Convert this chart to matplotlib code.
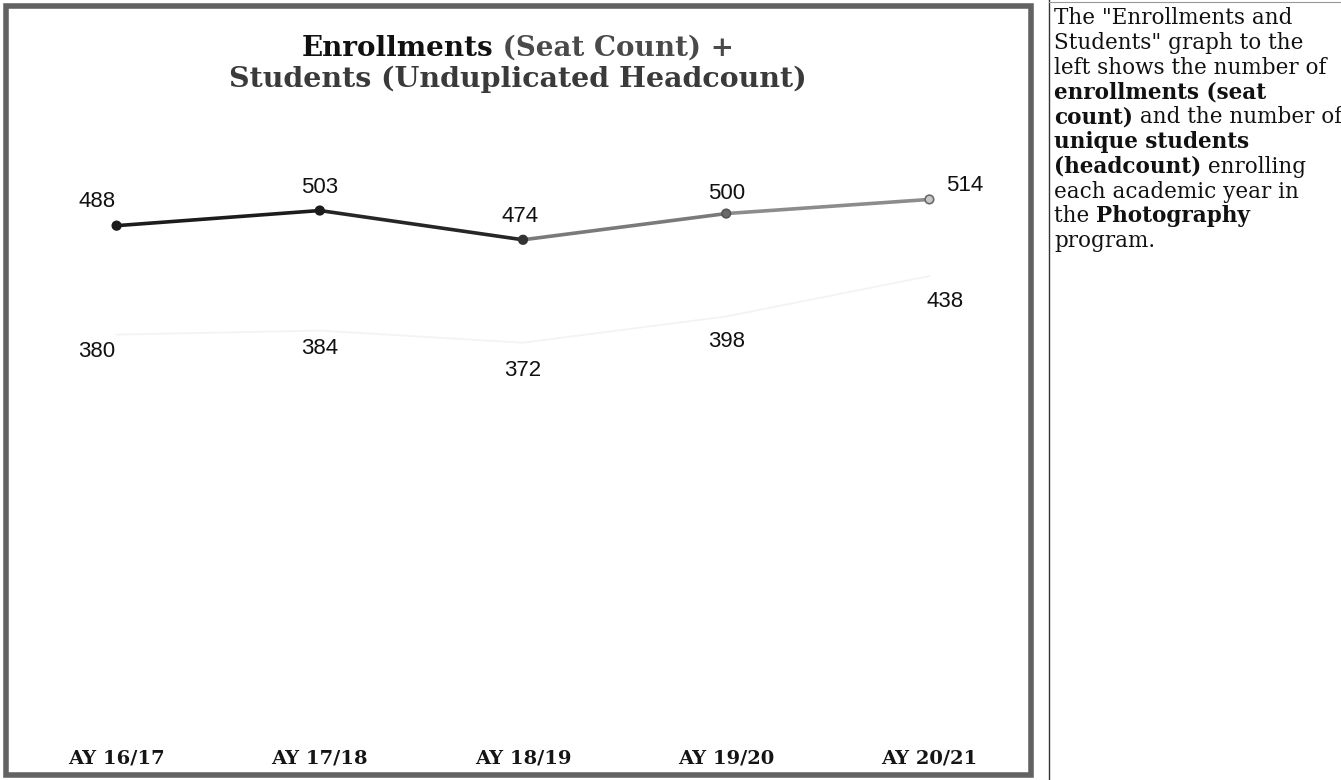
import matplotlib.pyplot as plt
from matplotlib.patches import Rectangle

W, H = 1341, 780

years = ['AY 16/17', 'AY 17/18', 'AY 18/19', 'AY 19/20', 'AY 20/21']
enrollments = [488, 503, 474, 500, 514]
students = [380, 384, 372, 398, 438]

title_bold = 'Enrollments'
title_rest = ' (Seat Count) +'
title_line2 = 'Students (Unduplicated Headcount)'

# side note, each line split into (text, bold) runs
note_lines = [
    [('The "Enrollments and', False)],
    [('Students" graph to the', False)],
    [('left shows the number of', False)],
    [('enrollments (seat', True)],
    [('count)', True), (' and the number of', False)],
    [('unique students', True)],
    [('(headcount)', True), (' enrolling', False)],
    [('each academic year in', False)],
    [('the ', False), ('Photography', True)],
    [('program.', False)],
]

fig = plt.figure(figsize=(W / 100, H / 100), dpi=100)

# overlay in pixel coords for frame, title and note
ov = fig.add_axes([0, 0, 1, 1])
ov.set_xlim(0, W)
ov.set_ylim(H, 0)
ov.axis('off')

# chart area
ax = fig.add_axes([15 / W, 1 - 718 / H, (1031 - 15) / W, (718 - 150) / H])
xs = list(range(len(years)))
ax.set_xlim(-0.5, 4.5)
ax.set_ylim(0, 563)
for s in ax.spines.values():
    s.set_visible(False)
ax.set_yticks([])
ax.patch.set_alpha(0)

# students line came out almost blank
ax.plot(xs, students, color='#f3f3f3', lw=1.3, zorder=2)

# enrollments line, darker on the left
seg_colors = ['#1c1c1c', '#262626', '#7a7a7a', '#8c8c8c']
for i in range(len(years) - 1):
    ax.plot(xs[i:i + 2], enrollments[i:i + 2], color=seg_colors[i], lw=2.6,
            solid_capstyle='round', zorder=3)
ax.scatter(xs, enrollments, s=38, zorder=4,
           facecolors=['#1c1c1c', '#1c1c1c', '#333333', '#6a6a6a', '#c8c8c8'],
           edgecolors=['#1c1c1c', '#1c1c1c', '#333333', '#555555', '#6a6a6a'],
           linewidths=1.2)

enr_off = [(-20, 24), (0, 23), (-3, 23), (0, 20), (35, 14)]
stu_off = [(-20, -17), (0, -18), (0, -28), (0, -25), (16, -25)]
for i in xs:
    ax.annotate(str(enrollments[i]), (i, enrollments[i]), xytext=enr_off[i],
                textcoords='offset pixels', ha='center', va='center',
                fontsize=16, family='Liberation Sans', color='#111111')
    ax.annotate(str(students[i]), (i, students[i]), xytext=stu_off[i],
                textcoords='offset pixels', ha='center', va='center',
                fontsize=16, family='Liberation Sans', color='#111111')

ax.set_xticks(xs, years)
ax.tick_params(axis='x', length=0, pad=23)
for lab in ax.get_xticklabels():
    lab.set_fontfamily('DejaVu Serif')
    lab.set_fontweight('bold')
    lab.set_fontsize(14)
    lab.set_color('#151515')

# frame around the chart
ov.add_patch(Rectangle((6, 6), 1025, 769, fill=False, edgecolor='#626262',
                       lw=4.0, clip_on=False))

# note box edges
ov.plot([1049, 1049], [0, H], color='#333333', lw=1.0)
ov.plot([1049, W], [1.5, 1.5], color='#999999', lw=0.8)

# title
t1 = ov.text(0, 56, title_bold, ha='left', va='baseline', fontsize=20,
             family='DejaVu Serif', fontweight='bold', color='#111111')
t2 = ov.annotate(title_rest, xy=(1, 0), xycoords=t1, ha='left', va='bottom',
                 fontsize=20, family='DejaVu Serif', fontweight='bold',
                 color='#4a4a4a')
ov.text(518, 87, title_line2, ha='center', va='baseline', fontsize=20.5,
        family='DejaVu Serif', fontweight='bold', color='#3a3a3a')

fig.canvas.draw()
r = fig.canvas.get_renderer()
w = t1.get_window_extent(r).width + t2.get_window_extent(r).width
t1.set_x(518 - w / 2)

# side note text
y = 24
for runs in note_lines:
    prev = None
    for txt, bold in runs:
        kw = dict(fontsize=15.5, family='DejaVu Serif', color='#111111',
                  fontweight='bold' if bold else 'normal')
        if prev is None:
            prev = ov.text(1054, y, txt, ha='left', va='baseline', **kw)
        else:
            prev = ov.annotate(txt, xy=(1, 0), xycoords=prev, ha='left',
                               va='bottom', **kw)
    y += 24.8

fig.savefig('out.png', dpi=100)
